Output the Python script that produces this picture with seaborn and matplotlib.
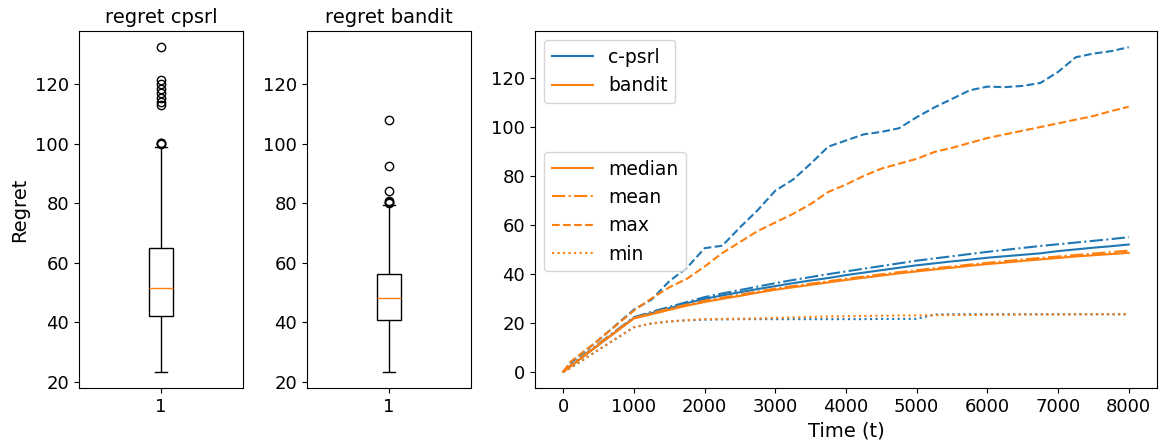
import numpy as np
import pandas as pd
import seaborn as sns
import matplotlib.pyplot as plt
from matplotlib.lines import Line2D

plt.rcParams["font.size"] = 13
plt.rcParams["axes.titlesize"] = 14
plt.rcParams["axes.labelsize"] = 14
plt.rcParams["legend.fontsize"] = 13.5

# final regret per run (hand picked so the box stats match the figure)
regret_cpsrl = [23.3, 28, 31, 33, 34.5, 36, 37, 38, 39, 40, 41, 41.5,
                42, 43, 44, 45, 46, 47, 48, 49, 49.5, 50, 50.5, 51,
                51.5, 52.5, 53.5, 55, 56, 57, 58, 59.5, 61, 62, 63, 64,
                65, 99, 100, 100.2, 100.4, 113, 114, 115.5, 117, 118.5, 120, 121.5, 132.5]
regret_bandit = [23.3, 27, 30, 32, 34, 35.5, 36.5, 37.5, 38.5, 39.3, 40, 40.4,
                 40.8, 42, 43, 43.8, 44.5, 45.2, 45.8, 46.4, 46.9, 47.3, 47.7, 48,
                 48.2, 48.8, 49.5, 50.2, 51, 51.8, 52.5, 53.2, 54, 54.6, 55.2, 55.8,
                 56.3, 60, 63, 66, 70, 75, 79.5, 80, 80.4, 80.8, 84, 92.7, 108]

# regret curves over time
time = [0, 100, 500, 1000, 1250, 1500, 1750, 2000, 2250, 2500, 2750, 3000, 3250, 3500, 3750, 4000,
        4250, 4500, 4750, 5000, 5250, 5500, 5750, 6000, 6250, 6500, 6750, 7000, 7250, 7500, 7750, 8000]

cpsrl_median = [0, 2.2, 11, 22, 24, 26, 28, 29.8, 31.2, 32.5, 33.8, 35, 36.2, 37.3, 38.3, 39.5,
                40.5, 41.5, 42.5, 43.5, 44.3, 45.1, 45.8, 46.6, 47.2, 47.8, 48.4, 49.3, 50, 50.7, 51.3, 52]
cpsrl_mean = [0, 2.5, 11.5, 22.3, 24.5, 26.5, 28.5, 30.5, 32, 33.4, 34.8, 36.2, 37.5, 38.7, 39.9, 41,
              42.1, 43.2, 44.3, 45.4, 46.3, 47.2, 48.1, 49, 49.8, 50.6, 51.4, 52.1, 52.8, 53.5, 54.2, 55]
cpsrl_max = [0, 3.5, 13, 25.4, 29.5, 37, 42.5, 50.5, 51.5, 59, 66, 74, 78.5, 85, 92, 94.5,
             97, 98, 99.5, 104, 108, 111.5, 115, 116.5, 116.3, 116.8, 118, 122.5, 128.5, 130, 131, 132.6]
cpsrl_min = [0, 1.5, 9, 18.2, 19.7, 20.5, 21, 21.3, 21.4, 21.5, 21.5, 21.5, 21.5, 21.5, 21.5, 21.5,
             21.5, 21.6, 21.6, 21.6, 23.4, 23.5, 23.5, 23.5, 23.5, 23.5, 23.5, 23.5, 23.5, 23.5, 23.5, 23.5]

bandit_median = [0, 2.2, 11, 21.8, 23.5, 25.3, 27, 28.5, 29.8, 31, 32.3, 33.5, 34.5, 35.5, 36.5, 37.5,
                 38.4, 39.3, 40.2, 41, 41.8, 42.5, 43.3, 44, 44.6, 45.3, 45.9, 46.5, 47.1, 47.6, 48.1, 48.6]
bandit_mean = [0, 2.4, 11.3, 22, 24, 25.8, 27.5, 29, 30.3, 31.5, 32.8, 34, 35, 36, 37, 38,
               38.9, 39.8, 40.7, 41.5, 42.3, 43, 43.8, 44.5, 45.2, 45.9, 46.5, 47.1, 47.7, 48.3, 48.9, 49.5]
bandit_max = [0, 4, 13, 25, 30, 34.5, 38, 43, 48.5, 53, 57.5, 61, 64.5, 68.5, 73.5, 76.5,
              80, 83, 85, 87, 89.8, 91.5, 93.5, 95.5, 97, 98.5, 100, 101.5, 103, 104.5, 106.5, 108.3]
bandit_min = [0, 1.5, 9, 18.2, 19.8, 20.6, 21.1, 21.5, 21.6, 21.7, 21.8, 22, 22.2, 22.4, 22.6, 22.7,
              22.8, 22.9, 23, 23, 23.1, 23.2, 23.2, 23.3, 23.3, 23.4, 23.4, 23.4, 23.5, 23.5, 23.5, 23.5]

algos = ["c-psrl", "bandit"]
stats = ["median", "mean", "max", "min"]
curves = {
    "c-psrl": [cpsrl_median, cpsrl_mean, cpsrl_max, cpsrl_min],
    "bandit": [bandit_median, bandit_mean, bandit_max, bandit_min],
}

rows = []
for algo in algos:
    for stat, vals in zip(stats, curves[algo]):
        for t, v in zip(time, vals):
            rows.append({"t": t, "regret": v, "algo": algo, "stat": stat})
df = pd.DataFrame(rows)

palette = {"c-psrl": "#1f77b4", "bandit": "#ff7f0e"}
dashes = {"median": "", "mean": (6.4, 1.6, 1.0, 1.6), "max": (3.7, 1.6), "min": (1.0, 1.65)}

fig = plt.figure(figsize=(11.6, 4.42), dpi=100)
H = 357 / 442
B = 54 / 442
ax1 = fig.add_axes([79 / 1160, B, 164 / 1160, H])
ax2 = fig.add_axes([307 / 1160, B, 164 / 1160, H], sharey=ax1)
ax3 = fig.add_axes([535 / 1160, B, 622 / 1160, H])

box_kw = dict(width=0.15, color="white", linecolor="black", linewidth=1,
              medianprops=dict(color="#ff7f0e", linewidth=1),
              flierprops=dict(marker="o", markerfacecolor="none", markeredgecolor="black", markersize=6))
for ax, vals, title in [(ax1, regret_cpsrl, "regret cpsrl"), (ax2, regret_bandit, "regret bandit")]:
    sns.boxplot(y=vals, ax=ax, **box_kw)
    ax.set_xlim(-0.5, 0.5)
    ax.set_xticks([0])
    ax.set_xticklabels(["1"])
    ax.set_title(title)
    ax.set_ylabel("")
ax1.set_ylabel("Regret")
ax2.tick_params(labelleft=True)

sns.lineplot(data=df, x="t", y="regret", hue="algo", style="stat", hue_order=algos,
             palette=palette, dashes=dashes, ax=ax3, legend=False, linewidth=1.5)
ax3.set_xlabel("Time (t)")
ax3.set_ylabel("")
ax3.set_xticks(range(0, 8001, 1000))

h1 = [Line2D([], [], color=palette[a], lw=1.5) for a in algos]
leg1 = ax3.legend(h1, algos, loc="upper left", handlelength=2.2)
ax3.add_artist(leg1)
ls = ["-", "-.", "--", ":"]
h2 = [Line2D([], [], color="#ff7f0e", lw=1.5, linestyle=s) for s in ls]
ax3.legend(h2, stats, loc="upper left", bbox_to_anchor=(0.0, 0.687), handlelength=2.2)

plt.savefig("out.png", dpi=100)
